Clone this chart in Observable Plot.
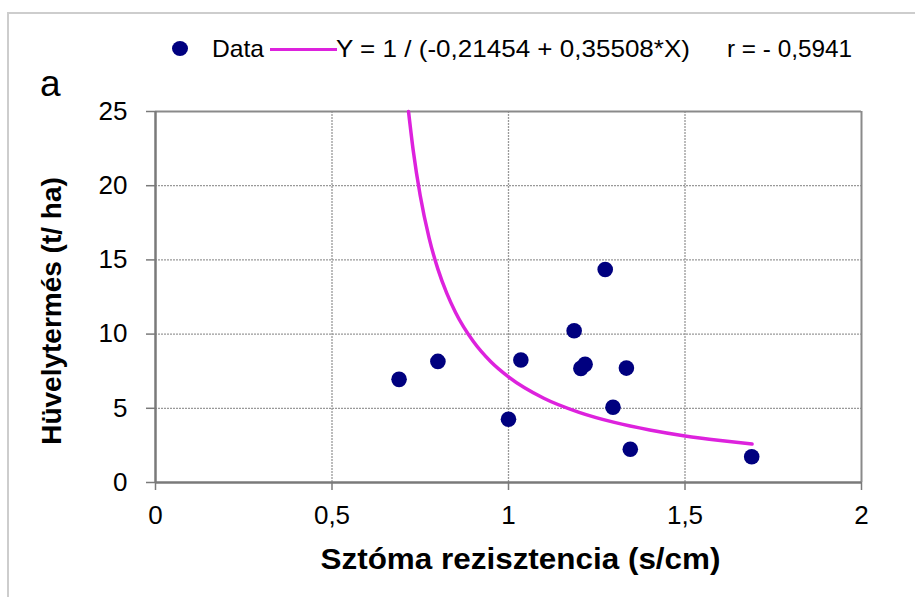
<!DOCTYPE html>
<html><head><meta charset="utf-8">
<script src="https://cdn.jsdelivr.net/npm/d3@7"></script>
<script src="https://cdn.jsdelivr.net/npm/@observablehq/plot@0.6"></script>
<style>
body{margin:0;background:#fff;font-family:"Liberation Sans",Arial,sans-serif;}
#wrap{position:relative;width:915px;height:597px;overflow:hidden;background:#fff}
#border{position:absolute;left:7px;top:12px;width:920px;height:600px;border-left:2px solid #cdcdcd;border-top:2px solid #cdcdcd;}
.lg{position:absolute;font-size:24px;line-height:24px;white-space:nowrap;color:#000;transform-origin:0 50%}
#chart{position:absolute;left:0;top:60px}
</style></head><body>
<div id="wrap">
 <div id="border"></div>
 <div id="legend"></div>
 <div id="chart"></div>
</div>
<script>
// Data points (stomatal resistance vs pod yield)
const sztoma = [0.69, 0.80, 1.00, 1.035, 1.186, 1.205, 1.217, 1.274, 1.296, 1.334, 1.345, 1.689];
const huvely = [6.95, 8.16, 4.26, 8.25, 10.23, 7.69, 7.96, 14.35, 5.07, 7.71, 2.24, 1.74];
// Fitted curve, values
const fitX = [0.7168, 0.73, 0.75, 0.775, 0.8, 0.825, 0.85, 0.9, 0.95, 1.0, 1.1, 1.2, 1.3, 1.4, 1.5, 1.6, 1.69];
const fitY = [25, 22.39, 19.32, 16.49, 14.38, 12.76, 11.46, 9.52, 8.14, 7.12, 5.68, 4.73, 4.05, 3.54, 3.14, 2.83, 2.59];
const xTicks = [0, 0.5, 1, 1.5, 2];
const yTicks = [0, 5, 10, 15, 20, 25];
const legendLabels = ["Data", "Y = 1 / (-0,21454 + 0,35508*X)", "r = - 0,5941"];
const xTitle = "Sztóma rezisztencia (s/cm)";
const yTitle = "Hüvelytermés (t/ ha)";
const panelLabel = "a";

const dotColor = "#00007f";
const lineColor = "#dd22dd";

// Legend & panel label (HTML)
const lg = document.getElementById("legend");
function add(html, style, cls) {
  const d = document.createElement("div");
  if (cls) d.className = cls;
  d.textContent = html;
  Object.assign(d.style, style);
  lg.appendChild(d);
  return d;
}
add("", {position:"absolute", left:"172px", top:"41px", width:"16px", height:"15px", borderRadius:"50%", background:dotColor});
add("", {position:"absolute", left:"270px", top:"48px", width:"67px", height:"3px", background:lineColor});
const t0 = add(legendLabels[0], {left:"212px", top:"37px"}, "lg");
const t1 = add(legendLabels[1], {left:"336px", top:"37px"}, "lg");
const t2 = add(legendLabels[2], {left:"727px", top:"37px"}, "lg");
add(panelLabel, {position:"absolute", left:"40px", top:"66px", fontSize:"37px", lineHeight:"36px"});
[[t0, 52], [t1, 354], [t2, 125]].forEach(([el, w]) => {
  const cw = el.getBoundingClientRect().width;
  if (cw > 0) el.style.transform = `scaleX(${w / cw})`;
});

const pts = sztoma.map((x, i) => ({x, y: huvely[i]}));
const fit = fitX.map((x, i) => ({x, y: fitY[i]}));
const fmt = d => String(d).replace(".", ",");

const chart = Plot.plot({
  width: 915,
  height: 537,
  marginTop: 51,
  marginBottom: 115,
  marginLeft: 155,
  marginRight: 54,
  style: {fontFamily: "'Liberation Sans', Arial, sans-serif", fontSize: "26px", color: "#000", background: "transparent", overflow: "visible"},
  x: {domain: [0, 2]},
  y: {domain: [0, 25]},
  marks: [
    Plot.ruleY(yTicks.filter(d => d > 0 && d < 25), {stroke: "#999", strokeWidth: 1.3, strokeDasharray: "2,1"}),
    Plot.ruleX(xTicks.filter(d => d > 0 && d < 2), {stroke: "#999", strokeWidth: 1.3, strokeDasharray: "2,1"}),
    Plot.ruleY([25], {stroke: "#8a8a8a", strokeWidth: 2}),
    Plot.ruleX([2], {stroke: "#8a8a8a", strokeWidth: 2}),
    Plot.line(fit, {x: "x", y: "y", stroke: lineColor, strokeWidth: 3.5, curve: "monotone-x"}),
    Plot.dot(pts, {x: "x", y: "y", r: 7.8, fill: dotColor, stroke: "none"}),
    Plot.ruleX([0], {stroke: "#7a7a7a", strokeWidth: 2.5}),
    Plot.ruleY([0], {stroke: "#7a7a7a", strokeWidth: 2.5}),
    Plot.axisX({ticks: xTicks, tickFormat: fmt, tickSize: 8, tickPadding: 15, label: null, stroke: "#7a7a7a", strokeWidth: 1.5, fontSize: 26}),
    Plot.axisY({ticks: yTicks, tickFormat: d => String(d), tickSize: 9, tickPadding: 19, label: null, stroke: "#7a7a7a", strokeWidth: 1.5, fontSize: 26}),
    Plot.text([xTitle], {frameAnchor: "bottom", textAnchor: "middle", dx: 12, dy: 86, fontSize: 29, fontWeight: "bold"}),
    Plot.text([yTitle], {frameAnchor: "left", textAnchor: "middle", rotate: -90, dx: -103, dy: 14, fontSize: 28, fontWeight: "bold"})
  ]
});
document.getElementById("chart").appendChild(chart);
// widen the x-axis title to the reference's width
d3.select(chart).selectAll("text").filter(function () { return this.textContent === xTitle; })
  .attr("textLength", 400).attr("lengthAdjust", "spacingAndGlyphs");
</script>
</body></html>
